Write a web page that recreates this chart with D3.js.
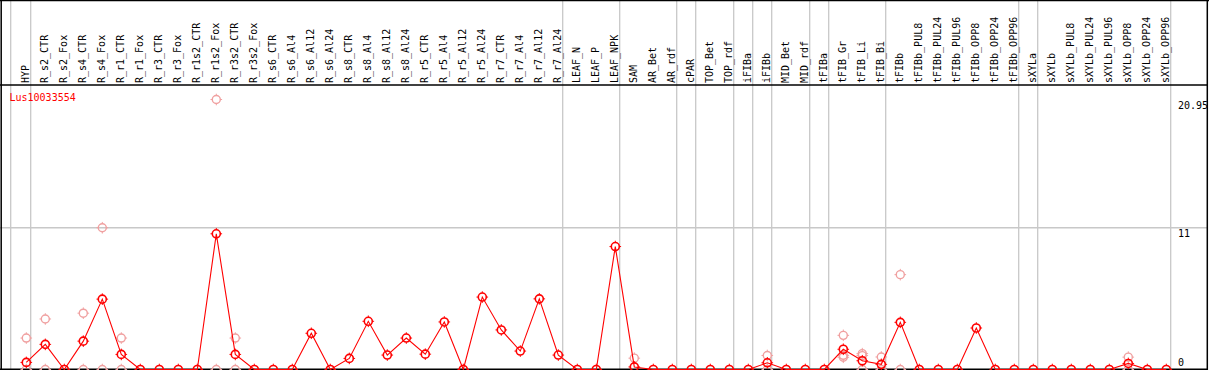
<!DOCTYPE html>
<html>
<head>
<meta charset="utf-8">
<script src="https://cdn.jsdelivr.net/npm/d3@7"></script>
<style>
  body { margin: 0; background: #fff; }
  svg { display: block; }
  text { font-family: "DejaVu Sans Mono", monospace; font-size: 10px; }
</style>
</head>
<body>
<div id="chart"></div>
<script>
// categories (columns, left to right)
const categories = ["HYP","R_s2_CTR","R_s2_Fox","R_s4_CTR","R_s4_Fox","R_r1_CTR","R_r1_Fox","R_r3_CTR","R_r3_Fox",
  "R_r1s2_CTR","R_r1s2_Fox","R_r3s2_CTR","R_r3s2_Fox","R_s6_CTR","R_s6_Al4","R_s6_Al12","R_s6_Al24",
  "R_s8_CTR","R_s8_Al4","R_s8_Al12","R_s8_Al24","R_r5_CTR","R_r5_Al4","R_r5_Al12","R_r5_Al24",
  "R_r7_CTR","R_r7_Al4","R_r7_Al12","R_r7_Al24","LEAF_N","LEAF_P","LEAF_NPK","SAM","AR_Bet","AR_rdf",
  "cPAR","TOP_Bet","TOP_rdf","iFIBa","iFIBb","MID_Bet","MID_rdf","tFIBa","tFIB_Gr","tFIB_Li","tFIB_Bi",
  "tFIBb","tFIBb_PUL8","tFIBb_PUL24","tFIBb_PUL96","tFIBb_OPP8","tFIBb_OPP24","tFIBb_OPP96","sXYLa",
  "sXYLb","sXYLb_PUL8","sXYLb_PUL24","sXYLb_PUL96","sXYLb_OPP8","sXYLb_OPP24","sXYLb_OPP96"];

// mean expression per category
const meanValues = [0.55,1.95,0,2.2,5.46,1.17,0,0,0,
  0,10.53,1.17,0,0,0,2.81,0,
  0.86,3.74,1.12,2.44,1.19,3.69,0,5.62,
  3.07,1.43,5.48,1.12,0,0,9.54,0.2,0,0,
  0,0,0,0,0.52,0,0,0,1.57,0.68,0.4,
  3.66,0,0,0,3.22,0,0,0,
  0,0,0,0,0.47,0,0];

// individual replicates (pale circles)
const replicateCats = ["HYP","HYP","R_s2_CTR","R_s2_CTR","R_s4_CTR","R_s4_CTR","R_s4_Fox","R_s4_Fox",
  "R_r1_CTR","R_r1_CTR","R_r1s2_Fox","R_r1s2_Fox","R_r3s2_CTR","R_r3s2_CTR","SAM","iFIBb","iFIBb",
  "tFIB_Gr","tFIB_Gr","tFIB_Gr","tFIB_Li","tFIB_Li","tFIB_Li","tFIB_Bi","tFIB_Bi","tFIBb","tFIBb",
  "sXYLb_OPP8","sXYLb_OPP8"];
const replicateVals = [2.44,0,3.92,0,4.37,0,11.0,0,
  2.44,0,20.95,0,2.44,0,0.88,1.09,0,
  2.65,0.95,1.1,1.23,1.08,0,0.97,0,7.36,0,
  0.96,0];

// column group separators (a line after each of these)
const groupEnds = ["HYP","R_r7_Al24","LEAF_NPK","AR_rdf","cPAR","TOP_rdf","iFIBa","iFIBb","MID_rdf",
  "tFIBa","tFIB_Bi","tFIBb_OPP96","sXYLa","sXYLb_OPP96"];

const yTicks = [0, 11, 20.95];
const geneName = "Lus10033554";

let W = 1209, H = 370;
let headerH = 85;

let svg = d3.select("#chart").append("svg")
    .attr("width", W)
    .attr("height", H);

let x = d3.scalePoint()
    .domain(categories)
    .range([26.3, 1166.3]);
const step = x.step();

let y = d3.scaleLinear()
    .domain([0, 20.95])
    .range([369.5, 99.5]);

// vertical group lines (through header too)
let sepX = [x(categories[0]) - step + 3.4].concat(groupEnds.map(c => x(c) + 4.4));
svg.append("g")
    .selectAll("line")
    .data(sepX)
    .enter()
    .append("line")
        .attr("x1", d => d).attr("x2", d => d)
        .attr("y1", 0).attr("y2", H)
        .attr("stroke", "#c8c8c8")
        .attr("stroke-width", 1.3);

// horizontal grid at 11
svg.append("line")
    .attr("x1", 0).attr("x2", 1207)
    .attr("y1", y(11)).attr("y2", y(11))
    .attr("stroke", "#c8c8c8")
    .attr("stroke-width", 1.3);

// frame
svg.append("line").attr("x1", 0).attr("x2", W).attr("y1", 0.5).attr("y2", 0.5).attr("stroke", "#000").attr("stroke-width", 1.5);
svg.append("line").attr("x1", 0).attr("x2", 1207.5).attr("y1", headerH).attr("y2", headerH).attr("stroke", "#000").attr("stroke-width", 1.5);
svg.append("line").attr("x1", 1.2).attr("x2", 1.2).attr("y1", 0).attr("y2", H).attr("stroke", "#000").attr("stroke-width", 1.5);
svg.append("line").attr("x1", 1207.3).attr("x2", 1207.3).attr("y1", 0).attr("y2", H).attr("stroke", "#000").attr("stroke-width", 1.5);
svg.append("line").attr("x1", 0).attr("x2", 1207.5).attr("y1", 369.3).attr("y2", 369.3).attr("stroke", "#000").attr("stroke-width", 1.5);

// column labels
svg.append("g")
    .selectAll("text")
    .data(categories)
    .enter()
    .append("text")
        .attr("transform", d => "translate(" + (x(d) - 0.5) + "," + (headerH - 2) + ")rotate(-90)")
        .attr("dy", "0.35em")
        .attr("fill", "#000")
        .text(d => d);

// y labels on right
svg.append("g")
    .selectAll("text")
    .data(yTicks)
    .enter()
    .append("text")
        .attr("x", 1178)
        .attr("y", d => y(d) + (d === 0 ? -3.5 : 9.5))
        .attr("fill", "#000")
        .text(d => d);

// gene name
svg.append("text")
    .attr("x", 9.5)
    .attr("y", 101)
    .attr("fill", "#ff0000")
    .text(geneName);

// marker: ring with small ticks
const marker = (g, color, sw) => {
    g.append("circle")
        .attr("r", 4)
        .attr("fill", "none")
        .attr("stroke", color)
        .attr("stroke-width", sw);
    [[0,-1],[0,1],[-1,0],[1,0]].forEach(v => {
        g.append("line")
            .attr("x1", v[0]*4).attr("y1", v[1]*4)
            .attr("x2", v[0]*5.8).attr("y2", v[1]*5.8)
            .attr("stroke", color)
            .attr("stroke-width", 1);
    });
};

// replicate points
let reps = replicateCats.map((c, i) => ({cat: c, v: replicateVals[i]}));
svg.append("g")
    .selectAll("g")
    .data(reps)
    .enter()
    .append("g")
        .attr("transform", d => "translate(" + x(d.cat) + "," + y(d.v) + ")")
        .each(function() { marker(d3.select(this), "#f0a0a0", 1.4); });

// mean line
let means = categories.map((c, i) => ({cat: c, v: meanValues[i]}));
svg.append("path")
    .datum(means)
    .attr("fill", "none")
    .attr("stroke", "#ff0000")
    .attr("stroke-width", 1.1)
    .attr("d", d3.line().x(d => x(d.cat)).y(d => y(d.v)));

svg.append("g")
    .selectAll("g")
    .data(means)
    .enter()
    .append("g")
        .attr("transform", d => "translate(" + x(d.cat) + "," + y(d.v) + ")")
        .each(function() { marker(d3.select(this), "#ff0000", 1.6); });
</script>
</body>
</html>
